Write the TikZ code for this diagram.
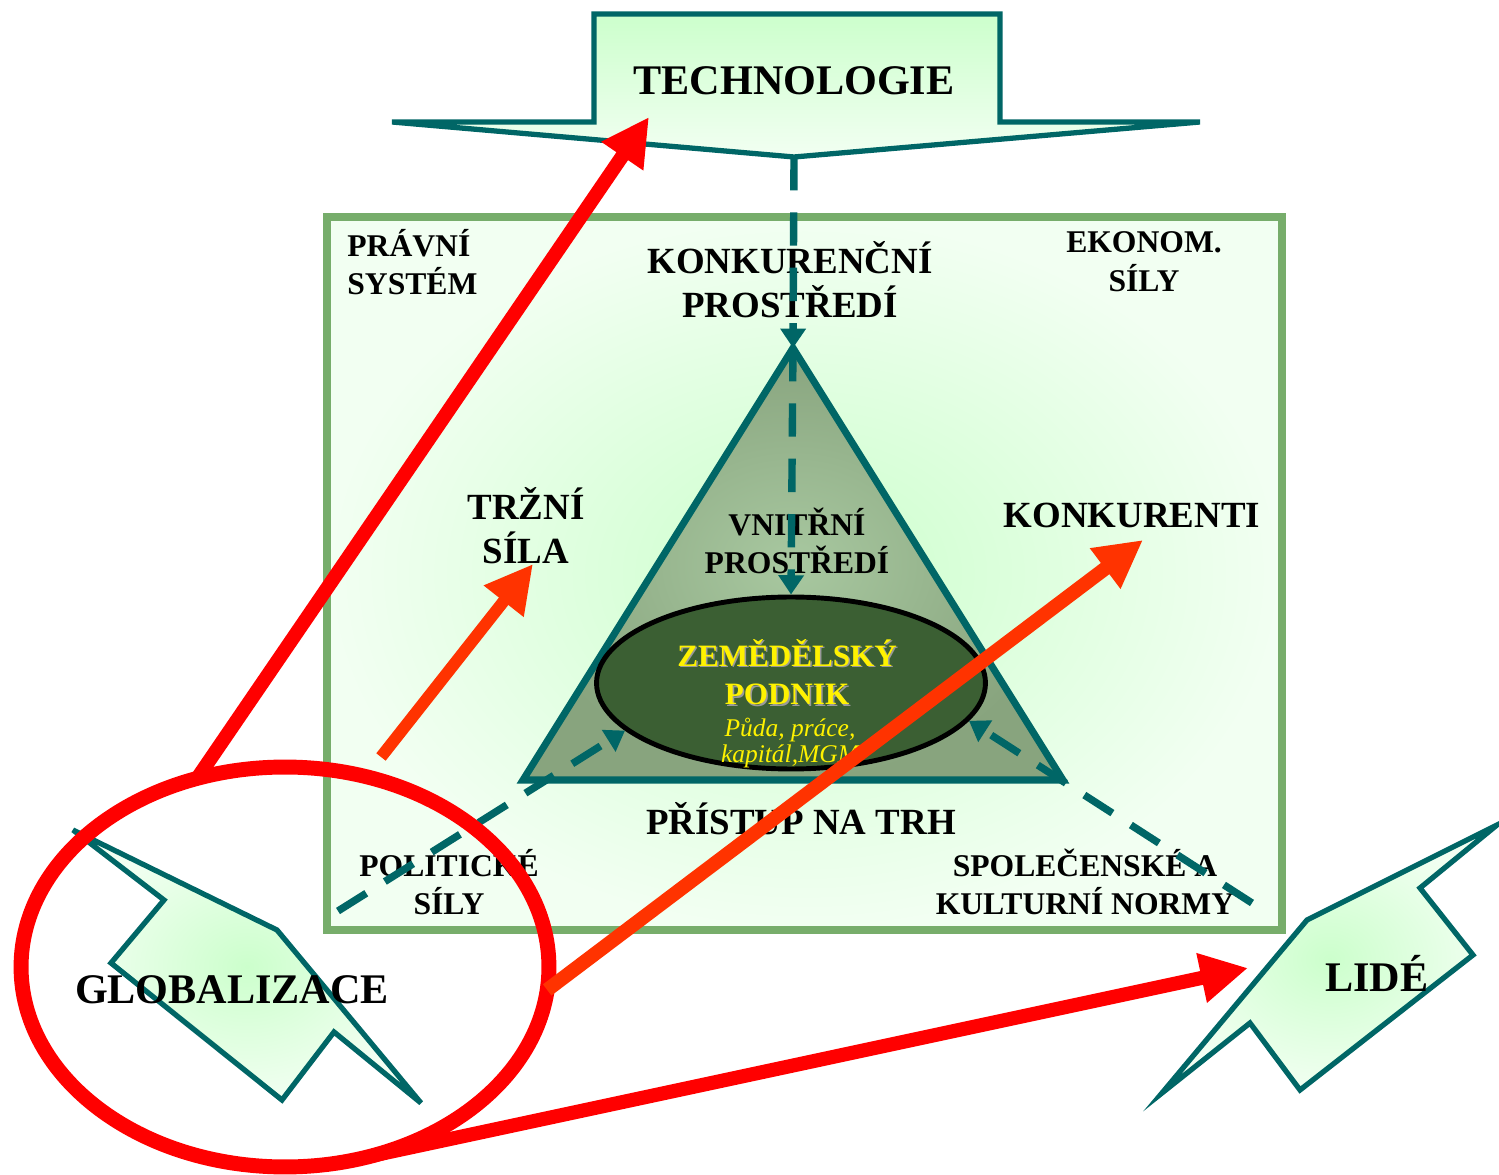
\documentclass[tikz,border=0pt]{standalone}
\usepackage{fontspec}
\setmainfont{Liberation Serif}
\usetikzlibrary{arrows.meta,shapes.geometric}
\definecolor{tealline}{HTML}{006666}
\definecolor{sage}{HTML}{77AD6B}
\definecolor{mint}{HTML}{CCFFCC}
\definecolor{paleMint}{HTML}{F2FFF2}
\definecolor{triIn}{HTML}{A8C8A0}
\definecolor{triOut}{HTML}{88A47E}
\definecolor{farmGreen}{HTML}{3B5F33}
\definecolor{hotRed}{HTML}{FF0000}
\definecolor{orangeRed}{HTML}{FF3300}
\definecolor{shadowGray}{HTML}{9A9A9A}

\begin{document}
\begin{tikzpicture}
[
    x=0.02cm, y=-0.02cm,
    every node/.style={inner sep=0pt, align=center},
    sz18/.style={font=\bfseries\fontsize{18pt}{22pt}\selectfont},
    sz21/.style={font=\bfseries\fontsize{21pt}{25pt}\selectfont},
    sz24/.style={font=\bfseries\fontsize{24pt}{28pt}\selectfont},
    goldtext/.style={font=\bfseries\fontsize{17.7pt}{22pt}\selectfont, text=yellow},
    flow/.style={draw=tealline, line width=4.2pt, dash pattern=on 19pt off 12.5pt, -{Triangle[length=11pt,width=14pt]}},
    push/.style={line width=8pt, -{Triangle[length=27pt,width=27pt]}},
    bigarrow/.style={draw=tealline, line width=3pt, line join=miter},
]
\useasboundingbox (0,0) rectangle (1499,1175);
\coordinate (apex) at (793,348);
\coordinate (baseL) at (523,780);
\coordinate (baseR) at (1063,780);
\coordinate (techTip) at (794,157);
\coordinate (polStart) at (338,911);
\coordinate (socStart) at (1252,903);
\coordinate (techIn) at (649,117);
\coordinate (trzniStart) at (381,757);
\coordinate (trzniIn) at (533,564);
\coordinate (konkIn) at (1143,540);
\coordinate (lideIn) at (1248,968);

\shadedraw[draw=sage, line width=4.5pt, inner color=mint, outer color=paleMint]
    (327,217) rectangle (1282,930);
\shadedraw[bigarrow, top color=mint, bottom color=paleMint]
    (594,14) -- (1000,14) -- (1000,122) -- (1200,122) -- (techTip)
    -- (392,122) -- (594,122) -- cycle;
\shade[inner color=triIn, outer color=triOut] (apex) -- (baseL) -- (baseR) -- cycle;
\draw[tealline, line width=4pt, line join=miter] (apex) -- (baseL) -- (baseR) -- cycle;
\node[ellipse, draw=black, fill=farmGreen, line width=2.8pt,
    minimum width=7.78cm, minimum height=3.44cm] (podnik) at (791,683) {};

\node[sz24] (tech) at (794,81) {TECHNOLOGIE};
\node[sz18, align=left, anchor=west] (pravni) at (347,262) {PRÁVNÍ\\SYSTÉM};
\node[sz21] (konkProst) at (790,280) {KONKURENČNÍ\\PROSTŘEDÍ};
\node[sz18] (ekonom) at (1144,262) {EKONOM.\\SÍLY};
\node[sz21] (trzni) at (526,526) {TRŽNÍ\\SÍLA};
\node[sz21] (konkurenti) at (1132,515) {KONKURENTI};
\node[sz18] (vnitrni) at (797,541) {VNITŘNÍ\\PROSTŘEDÍ};
\node[goldtext, text=shadowGray] (podnikShadow) at (788.5,673.5) {ZEMĚDĚLSKÝ\\PODNIK};
\node[goldtext] (podnikText) at (787,672) {ZEMĚDĚLSKÝ\\PODNIK};
\node[font=\itshape\fontsize{14.5pt}{14.5pt}\selectfont, text=yellow] (zdroje) at (790,743) {Půda, práce,\\kapitál,MGM};
\node[sz21] (pristup) at (801,819) {PŘÍSTUP NA TRH};
\node[sz18] (politicke) at (449,882) {POLITICKÉ\\SÍLY};
\node[sz18] (spolecenske) at (1085,882) {SPOLEČENSKÉ A\\KULTURNÍ NORMY};

\draw[flow] (techTip) -- (apex);
\draw[flow] (apex) -- (podnik.north);
\draw[flow] (polStart) -- (podnik.196);
\draw[flow] (socStart) -- (podnik.348);

\shadedraw[bigarrow, inner color=mint, outer color=paleMint]
    (73,830) -- (277,930) -- (421,1103) -- (334,1032) -- (282,1100)
    -- (111,963) -- (164,900) -- cycle;
\shadedraw[bigarrow, inner color=mint, outer color=paleMint]
    (1497,825) -- (1420,888) -- (1473,955) -- (1300,1090) -- (1250,1023)
    -- (1162,1093) -- (1307,920) -- cycle;
\node[sz24] (glob) at (232,990) {GLOBALIZACE};
\node[sz24] (lide) at (1377,973) {LIDÉ};

\node[ellipse, draw=hotRed, line width=8.5pt, outer sep=0pt,
    minimum width=10.56cm, minimum height=8cm] (globRing) at (285,967) {};
\draw[push, hotRed] (globRing.115) -- (techIn);
\draw[push, orangeRed, line width=6.8pt] (trzniStart) -- (trzniIn);
\draw[push, orangeRed] (globRing.355) -- (konkIn);
\draw[push, hotRed] (globRing.295) -- (lideIn);
\end{tikzpicture}
\end{document}
